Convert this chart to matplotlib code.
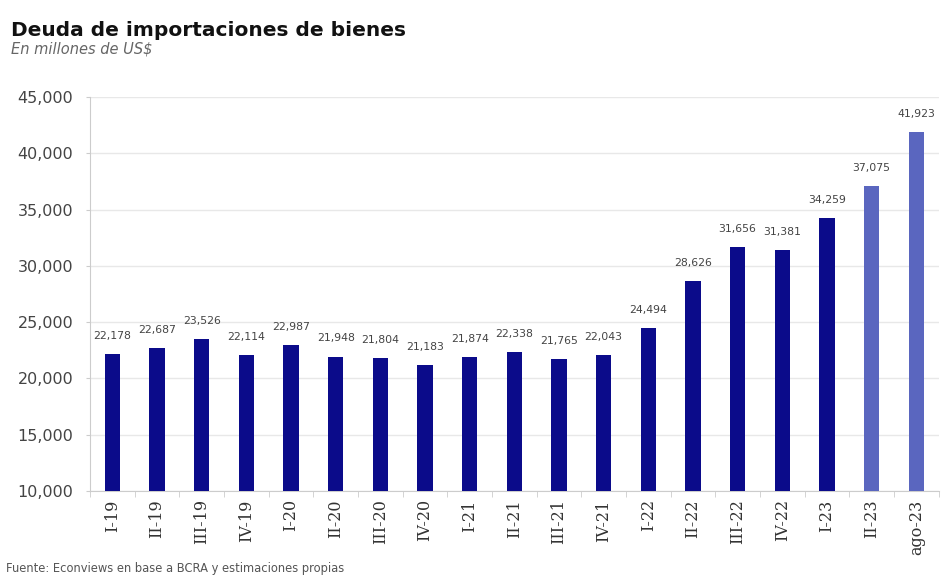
import numpy as np
import matplotlib.pyplot as plt

categories = ['I-19', 'II-19', 'III-19', 'IV-19', 'I-20', 'II-20', 'III-20', 'IV-20',
              'I-21', 'II-21', 'III-21', 'IV-21', 'I-22', 'II-22', 'III-22', 'IV-22',
              'I-23', 'II-23', 'ago-23']
values = [22178, 22687, 23526, 22114, 22987, 21948, 21804, 21183,
          21874, 22338, 21765, 22043, 24494, 28626, 31656, 31381,
          34259, 37075, 41923]
estimated = [False] * 17 + [True, True]

dark = '#0b0b8a'
light = '#5a66bf'

fig = plt.figure(figsize=(9.43, 5.8), dpi=100)
ax = fig.add_axes([0.0954, 0.1534, 0.9, 0.6794])

x = np.arange(len(categories))
colors = [light if e else dark for e in estimated]
ax.bar(x, values, width=0.34, color=colors, zorder=3)

for xi, v in zip(x, values):
    ax.annotate(f'{v:,}', (xi, v), xytext=(0, 13), textcoords='offset points',
                ha='center', va='center', fontsize=7.8, color='#444444')

ax.set_ylim(10000, 45000)
ax.set_xlim(-0.5, 18.32)
ticks = list(range(10000, 45001, 5000))
ax.set_yticks(ticks)
ax.set_yticklabels([f'{t:,}' for t in ticks], fontsize=11.5, color='#444444')
ax.set_xticks(x)
ax.set_xticklabels(categories, rotation=90, fontsize=11.5, family='DejaVu Serif', color='#333333')
ax.set_xticks(np.arange(-0.5, len(categories), 1), minor=True)
ax.tick_params(axis='x', which='major', length=0, pad=6)
ax.tick_params(axis='x', which='minor', length=4, color='#cccccc')
ax.tick_params(axis='y', length=3, color='#cccccc', pad=9)

ax.grid(axis='y', color='#e8e8e8', linewidth=1, zorder=0)
for s in ['top', 'right']:
    ax.spines[s].set_visible(False)
ax.spines['left'].set_color('#cccccc')
ax.spines['bottom'].set_color('#cccccc')

fig.text(0.012, 0.938, 'Deuda de importaciones de bienes', fontsize=14.5, fontweight='bold',
         color='#111111', ha='left', va='baseline')
fig.text(0.012, 0.908, 'En millones de US$', fontsize=10.5, style='italic',
         color='#666666', ha='left', va='baseline')
fig.text(0.006, 0.008, 'Fuente: Econviews en base a BCRA y estimaciones propias', fontsize=8.3,
         color='#555555', ha='left', va='bottom')

fig.savefig('out.png', dpi=100)
